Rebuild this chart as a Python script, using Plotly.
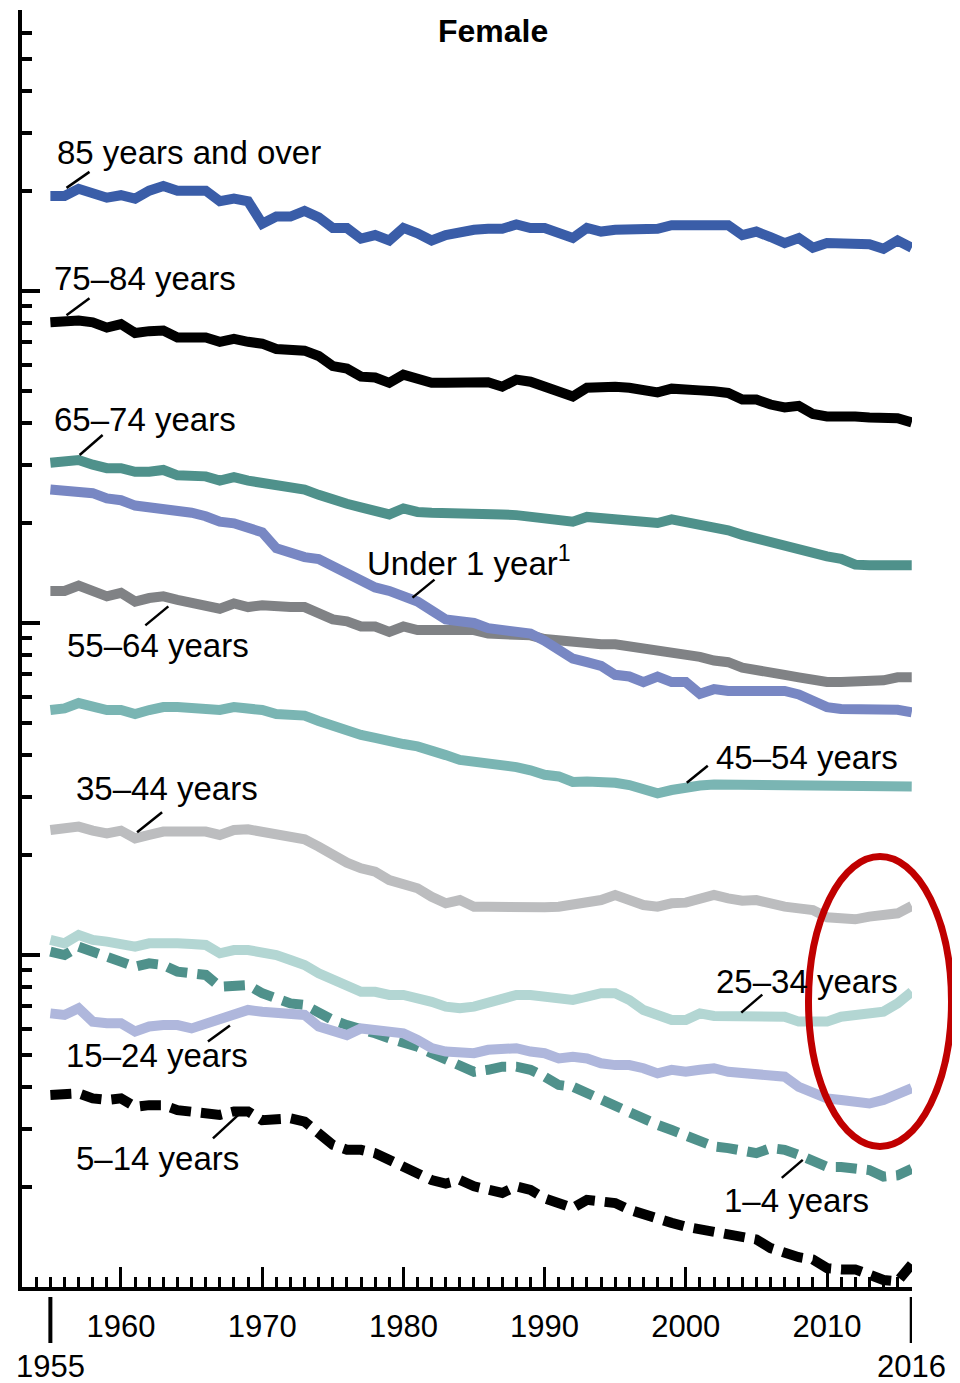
import math
import plotly.graph_objects as go

years = list(range(1955, 2017))

age_85_over = [19340, 19340, 20310, 19820, 19100, 19430, 18970, 20060, 20720, 20060,
               20060, 20060, 18630, 18970, 18630, 15950, 16760, 16760, 17420, 16670,
               15490, 15490, 14380, 14740, 14200, 15490, 14920, 14200, 14740, 15110,
               15290, 15400, 15400, 15870, 15480, 15480, 14910, 14440, 15480, 15100,
               15290, 15290, 15290, 15400, 15790, 15790, 15790, 15790, 15790, 14730,
               15100, 14540, 13940, 14440, 13500, 13940, 13940, 13840, 13840, 13400,
               14190, 13500]
age_75_84 = [8050, 8110, 8150, 8050, 7760, 7950, 7470, 7570, 7600, 7240,
             7240, 7240, 7030, 7170, 7030, 6940, 6690, 6610, 6610, 6370,
             5940, 5840, 5520, 5490, 5290, 5600, 5470, 5290, 5290, 5290,
             5350, 5310, 5150, 5410, 5330, 5150, 4950, 4810, 5110, 5150,
             5150, 5110, 5020, 4950, 5080, 5080, 5020, 4990, 4930, 4710,
             4710, 4550, 4460, 4510, 4260, 4190, 4220, 4190, 4160, 4160,
             4140, 4020]
age_65_74 = [3037, 3052, 3097, 2999, 2926, 2926, 2855, 2855, 2890, 2785,
             2765, 2765, 2684, 2751, 2684, 2651, 2618, 2586, 2523, 2432,
             2343, 2286, 2230, 2176, 2123, 2213, 2160, 2149, 2149, 2149,
             2160, 2139, 2123, 2113, 2087, 2035, 2010, 2020, 2087, 2072,
             2062, 2051, 2010, 2000, 2051, 2020, 1961, 1937, 1903, 1843,
             1798, 1740, 1697, 1668, 1607, 1587, 1560, 1499, 1492, 1492,
             1492, 1492]
under_1 = [2523, 2492, 2492, 2461, 2372, 2343, 2258, 2230, 2230, 2213,
           2149, 2097, 2020, 1996, 1923, 1876, 1680, 1618, 1579, 1559,
           1484, 1413, 1328, 1280, 1249, 1203, 1160, 1090, 1025, 1012,
           1000, 965, 953, 953, 929, 884, 831, 781, 762, 743,
           698, 690, 664, 690, 664, 664, 612, 632, 624, 624,
           632, 632, 624, 609, 587, 558, 551, 551, 548, 548,
           548, 538]
age_55_64 = [1249, 1249, 1296, 1249, 1203, 1233, 1160, 1189, 1203, 1174,
             1145, 1131, 1104, 1145, 1117, 1131, 1117, 1117, 1117, 1077,
             1025, 1012, 976, 976, 940, 976, 952, 952, 952, 952,
             952, 929, 929, 929, 918, 895, 884, 874, 874, 863,
             863, 852, 841, 821, 811, 801, 791, 771, 762, 734,
             725, 710, 698, 686, 672, 664, 664, 664, 664, 672,
             686, 686]
age_45_54 = [547, 553, 574, 558, 547, 547, 532, 547, 558, 558,
             553, 553, 547, 558, 553, 547, 532, 532, 526, 507,
             490, 470, 460, 451, 445, 432, 425, 409, 400, 387,
             383, 379, 374, 368, 360, 349, 345, 332, 333, 334,
             330, 325, 318, 307, 314, 321, 324, 326, 326, 323,
             324, 321, 323, 322, 322, 321, 322, 322, 322, 322,
             322, 322]
age_35_44 = [237.9, 239.1, 243.6, 236.9, 232.5, 236.9, 224.6, 229.9, 235.3, 235.3,
             235.3, 235.3, 229.9, 237.9, 239.1, 235.3, 229.9, 227.2, 223.0, 212.0,
             200.1, 189.7, 182.4, 178.2, 168.2, 162.5, 158.8, 149.8, 143.1, 146.4,
             139.8, 139.8, 139.2, 140.5, 139.8, 139.2, 139.8, 141.4, 144.8, 146.4,
             151.6, 146.4, 141.4, 139.8, 143.1, 143.8, 148.1, 151.6, 148.1, 145.8,
             146.4, 142.5, 139.8, 138.2, 136.6, 129.9, 129.9, 128.1, 130.5, 132.0,
             133.5, 140.5]
age_25_34 = [111.0, 108.4, 114.9, 111.0, 109.7, 108.4, 105.9, 108.4, 109.0, 108.4,
             108.0, 107.2, 101.2, 103.5, 103.5, 102.3, 100.0, 96.6, 93.3, 88.1,
             84.1, 80.3, 77.5, 77.5, 75.8, 75.8, 74.6, 72.3, 69.9, 69.1,
             69.9, 71.5, 74.1, 75.8, 75.8, 74.9, 74.9, 73.2, 74.9, 76.7,
             76.7, 73.2, 68.3, 66.0, 63.7, 63.7, 66.7, 65.5, 65.5, 65.2,
             65.2, 65.5, 65.2, 63.0, 63.0, 63.0, 65.2, 66.0, 66.0, 67.5,
             71.5, 77.5]
age_15_24 = [66.7, 66.0, 69.1, 63.0, 62.3, 62.3, 58.8, 60.9, 61.5, 61.5,
             60.1, 62.3, 64.5, 66.7, 68.3, 67.5, 66.7, 66.7, 66.0, 60.9,
             59.5, 57.4, 60.1, 59.5, 58.1, 58.1, 55.5, 52.4, 51.2, 50.6,
             50.6, 51.8, 51.8, 52.4, 51.2, 50.6, 48.8, 49.4, 48.8, 47.2,
             46.6, 46.6, 45.6, 44.0, 45.1, 44.5, 45.1, 45.6, 44.5, 44.0,
             43.5, 43.0, 43.0, 40.1, 38.3, 37.0, 36.6, 36.2, 35.7, 36.6,
             37.9, 39.7]
age_1_4 = [102.3, 100.0, 105.9, 102.3, 98.9, 96.6, 92.2, 94.4, 93.3, 89.1,
           88.1, 87.1, 80.3, 81.2, 81.2, 76.7, 74.1, 71.5, 70.7, 66.7,
           63.7, 61.5, 60.1, 58.1, 56.1, 54.8, 52.9, 50.6, 48.3, 46.1,
           44.5, 45.1, 46.1, 46.1, 45.1, 43.0, 40.6, 40.1, 38.3, 37.0,
           35.3, 33.8, 31.8, 30.8, 29.7, 28.7, 27.4, 26.5, 26.2, 25.9,
           25.3, 26.2, 25.9, 25.0, 24.1, 23.0, 23.0, 22.7, 22.5, 21.5,
           21.7, 22.7]
age_5_14 = [37.9, 38.3, 38.3, 37.0, 36.6, 37.0, 34.9, 35.3, 35.3, 34.1,
            33.8, 33.4, 33.0, 33.8, 33.8, 31.8, 31.8, 32.2, 31.5, 29.0,
            26.8, 25.9, 25.9, 25.3, 24.1, 23.0, 22.0, 21.0, 20.5, 21.0,
            20.1, 19.8, 19.2, 20.1, 19.6, 18.5, 17.9, 17.3, 18.3, 18.1,
            17.9, 17.1, 16.5, 15.9, 15.6, 15.2, 14.9, 14.5, 14.3, 14.0,
            13.9, 13.1, 12.6, 12.3, 12.1, 11.4, 11.3, 11.3, 10.9, 10.5,
            10.4, 11.7]

major_x_ticks = [1960, 1970, 1980, 1990, 2000, 2010]
end_years = [1955, 2016]
major_y_ticks = [10, 100, 1000, 10000]
minor_y_ticks = [m * d for d in (10, 100, 1000) for m in range(2, 10)] + [20000, 30000, 40000, 50000, 60000, 70000]

# name, values, color, dash
series = [
    ("85 years and over", age_85_over, "#3A5DA8", "solid"),
    ("75–84 years", age_75_84, "#000000", "solid"),
    ("65–74 years", age_65_74, "#4F918B", "solid"),
    ("55–64 years", age_55_64, "#808285", "solid"),
    ("Under 1 year", under_1, "#7887C3", "solid"),
    ("45–54 years", age_45_54, "#7AB5B3", "solid"),
    ("35–44 years", age_35_44, "#BCBDBF", "solid"),
    ("1–4 years", age_1_4, "#4F918B", "21px,10px"),
    ("25–34 years", age_25_34, "#B3D6D3", "solid"),
    ("15–24 years", age_15_24, "#AFB7DC", "solid"),
    ("5–14 years", age_5_14, "#000000", "21px,10px"),
]

# page is offset by the 8px body margin; figure is sized so the plot lands where intended
W, H = 952, 1375
ML, MT, PW, PH = 14, 2, 890, 1277
MR = W - ML - PW
MB = H - MT - PH
PAGE_L, PAGE_B = 22, 1287   # plot left / bottom in page pixels
Y_TOP = 1 + PH / 332        # log10 of top of the axis


def px(xp):
    return (xp - PAGE_L) / PW


def py(yp):
    return (PAGE_B - yp) / PH


fig = go.Figure()
for name, vals, color, dash in series:
    fig.add_trace(go.Scatter(x=years, y=vals, mode="lines", name=name,
                             line=dict(color=color, width=10, dash=dash),
                             hoverinfo="skip"))
# empty helper trace on a linear twin axis (log10 of the same values) for leader lines
fig.add_trace(go.Scatter(x=[], y=[], yaxis="y2", showlegend=False, hoverinfo="skip"))

FONT = "Liberation Sans, Arial, sans-serif"

# label text, values, anchor year, text left/center (page px), leader offsets (px, up positive)
labels = [
    ("85 years and over", age_85_over, 1956, 55, 152, (2, 8, 25, 24)),
    ("75–84 years", age_75_84, 1956, 52, 278, (2, 6, 25, 23)),
    ("65–74 years", age_65_74, 1957, 52, 419, (1, 5, 24, 25)),
    ("Under 1 year<sup>1</sup>", under_1, 1981, 365, 561, (-5, 4, 17, 22)),
    ("55–64 years", age_55_64, 1963, 65, 645, (5, -10, -18, -29)),
    ("45–54 years", age_45_54, 2000, 714, 757, (1, 4, 22, 21)),
    ("35–44 years", age_35_44, 1961, 74, 788, (2, 6, 27, 26)),
    ("25–34 years", age_25_34, 2004, 714, 981, (-1, 4, 20, 22)),
    ("15–24 years", age_15_24, 1968, 64, 1055, (-4, -12, -26, -28)),
    ("5–14 years", age_5_14, 1968, 74, 1158, (6, -2, -21, -27)),
    ("1–4 years", age_1_4, 2008, 722, 1200, (4, -5, -17, -23)),
]

shapes = []
annotations = []
for text, vals, yr, tx, ty, (x0, y0, x1, y1) in labels:
    v = vals[years.index(yr)]
    shapes.append(dict(type="line", xref="x", yref="y2", xsizemode="pixel", ysizemode="pixel",
                       xanchor=yr, yanchor=math.log10(v), x0=x0, y0=y0, x1=x1, y1=y1,
                       line=dict(color="black", width=2.5)))
    annotations.append(dict(text=text, xref="paper", yref="paper", x=px(tx), y=py(ty),
                            xanchor="left", yanchor="middle", showarrow=False,
                            font=dict(family=FONT, size=33, color="black")))

# long ticks and labels for the first and last year
for yr in end_years:
    shapes.append(dict(type="line", xref="x", yref="paper", x0=yr, x1=yr,
                       y0=py(1297), y1=py(1343), line=dict(color="black", width=4)))
    annotations.append(dict(text=str(yr), xref="x", yref="paper", x=yr, y=py(1366),
                            xanchor="center", yanchor="middle", showarrow=False,
                            font=dict(family=FONT, size=31, color="black")))

# red highlight ellipse
shapes.append(dict(type="circle", xref="paper", yref="paper",
                   x0=px(808.5), x1=px(951.5), y0=py(1146.5), y1=py(856.5),
                   line=dict(color="#C00000", width=7), layer="above"))

annotations.append(dict(text="<b>Female</b>", xref="paper", yref="paper", x=px(493), y=py(31),
                        xanchor="center", yanchor="middle", showarrow=False,
                        font=dict(family=FONT, size=32, color="black")))

fig.update_layout(
    width=W, height=H,
    margin=dict(l=ML, r=MR, t=MT, b=MB, pad=0),
    paper_bgcolor="white", plot_bgcolor="white",
    showlegend=False,
    shapes=shapes, annotations=annotations,
    font=dict(family=FONT, color="black"),
    yaxis2=dict(overlaying="y", range=[1, Y_TOP], visible=False, fixedrange=True),
)
fig.update_xaxes(
    range=[1952.99, 2016.02], showgrid=False, zeroline=False,
    showline=True, linewidth=4, linecolor="black",
    ticks="inside", tickvals=major_x_ticks, ticktext=[str(t) for t in major_x_ticks],
    ticklen=20, tickwidth=3, tickcolor="black",
    tickfont=dict(family=FONT, size=31, color="black"),
    ticklabelstandoff=9,
    minor=dict(tick0=1955, dtick=1, ticks="inside", ticklen=10, tickwidth=3, tickcolor="black", showgrid=False),
)
fig.update_layout(yaxis=dict(
    type="log", range=[1, Y_TOP], showgrid=False, zeroline=False,
    showline=True, linewidth=4, linecolor="black",
    ticks="inside", tickvals=major_y_ticks, ticklen=18, tickwidth=4, tickcolor="black",
    showticklabels=False,
    minor=dict(tickvals=minor_y_ticks, ticks="inside", ticklen=10, tickwidth=4, tickcolor="black", showgrid=False),
))

fig.write_html("out.html")
